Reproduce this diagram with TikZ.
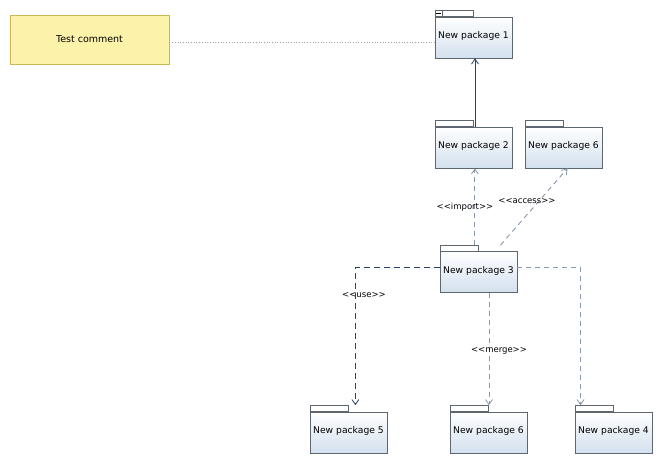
\documentclass[tikz,border=0pt]{standalone}
\usepackage{fontspec}
\setmainfont{DejaVu Sans}
\usetikzlibrary{arrows.meta}

\definecolor{pkgline}{HTML}{5E6670}
\definecolor{pkgfill}{HTML}{D3E0EE}
\definecolor{notefill}{HTML}{FCF2AA}
\definecolor{noteline}{HTML}{C9B955}
\definecolor{darkdep}{HTML}{25436B}
\definecolor{lightdep}{HTML}{8797AC}

\tikzset{
  pkgbody/.style={draw=pkgline, line width=0.8pt, top color=white, bottom color=pkgfill,
    minimum width=77pt, minimum height=41pt, inner sep=0pt, font=\fontsize{9.2}{10}\selectfont},
  pkgtab/.style={draw=pkgline, line width=0.8pt, fill=white, minimum width=38pt,
    minimum height=6pt, inner sep=0pt},
  notebox/.style={draw=noteline, fill=notefill, line width=0.8pt, minimum width=159pt,
    minimum height=49pt, inner sep=0pt, font=\fontsize{9.5}{10}\selectfont},
  vtip/.style={-{Straight Barb[length=5pt,width=7pt,line width=0.8pt]}},
  solidrel/.style={draw=darkdep, line width=1pt, vtip},
  darkrel/.style={draw=darkdep, line width=0.9pt, dash pattern=on 6pt off 4pt, vtip},
  lightrel/.style={draw=lightdep, line width=0.9pt, dash pattern=on 5pt off 4pt, vtip},
  notelink/.style={draw=gray!70, line width=0.7pt, dotted},
  stereo/.style={font=\fontsize{8.5}{10}\selectfont, inner sep=1pt}
}

% package: body node with its tab on top
\newcommand\umlpkg[4]{%
  \node[pkgbody] (#1) at (#2,#3) {\raisebox{4.5pt}{#4}};
  \node[pkgtab, anchor=south west] (#1t) at ([yshift=-0.4pt]#1.north west) {};
}
% stereotype text with plain angle brackets
\newcommand\stereotext[1]{{<}{<}#1{>}{>}}

\begin{document}
\begin{tikzpicture}[x=1pt,y=-1pt]
\useasboundingbox (0,0) rectangle (665,465);

% comment
\node[notebox] (note) at (89.5,39.5) {Test comment};

% packages
\umlpkg{p1}{473.5}{37.5}{New package 1}
\umlpkg{p2}{473.5}{147.5}{New package 2}
\umlpkg{p6a}{563.5}{147.5}{New package 6}
\umlpkg{p3}{478.5}{272}{New package 3}
\umlpkg{p5}{348.5}{432.5}{New package 5}
\umlpkg{p6b}{488.5}{432.5}{New package 6}
\umlpkg{p4}{613.5}{432.5}{New package 4}

% collapse marker on the first package tab
\node[draw=pkgline, fill=white, line width=0.6pt, minimum width=7pt, minimum height=6pt,
  inner sep=0pt, anchor=north west] (p1m) at (p1t.north west) {};
\draw[line width=0.8pt] ([xshift=1.5pt]p1m.west) -- ([xshift=-1.5pt]p1m.east);

% comment link
\draw[notelink] ([yshift=-2.5pt]note.east) -- ([yshift=-2.5pt]note.east -| p1.west);

% nesting / containment
\draw[solidrel] ([xshift=1.5pt]p2.north) -- ([xshift=1.5pt]p1.south);

% import
\draw[lightrel] ([xshift=-3.5pt]p3t.north east) -- ([xshift=-3.5pt]p3t.north east |- p2.south);
\node[stereo] (limp) at (465,207) {\stereotext{import}};

% access
\draw[lightrel] ([xshift=22pt,yshift=6pt]p3.north) -- ([xshift=4pt]p6a.south);
\node[stereo] (lacc) at (527,201) {\stereotext{access}};

% use
\draw[darkrel] ([yshift=5pt]p3.west) -| ([xshift=7pt]p5t.north east);
\node[stereo] (luse) at (364,295) {\stereotext{use}};

% merge
\draw[lightrel] ([xshift=10.5pt]p3.south) -- ([xshift=10.5pt]p3.south |- p6bt.north);
\node[stereo] (lmrg) at (499,351) {\stereotext{merge}};

% plain dependency
\draw[lightrel] ([yshift=5pt]p3.east) -| ([xshift=-33pt]p4.north |- p4t.north);

\end{tikzpicture}
\end{document}
